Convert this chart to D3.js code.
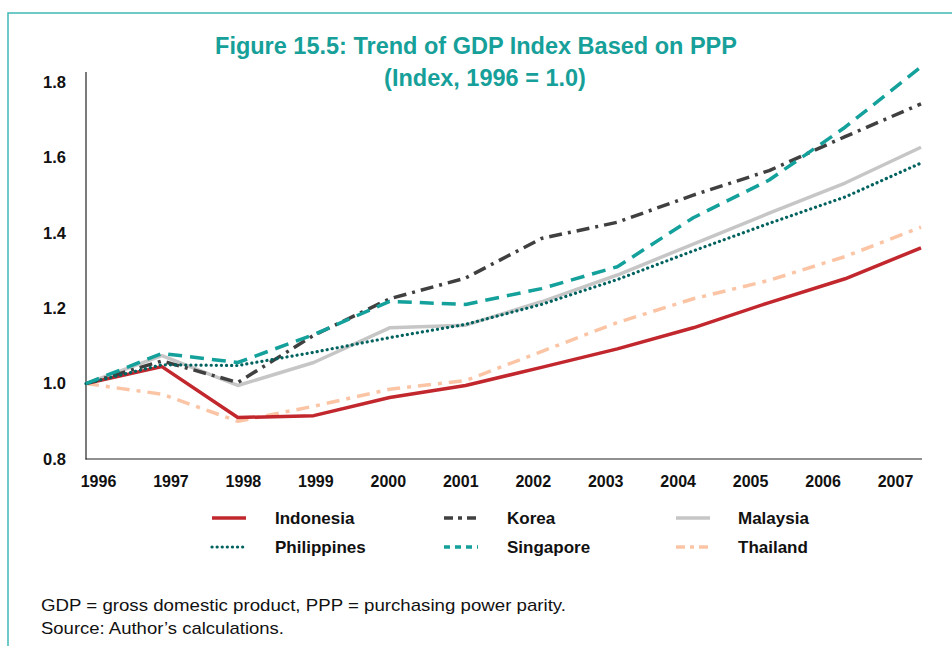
<!DOCTYPE html>
<html><head><meta charset="utf-8">
<script src="https://cdn.jsdelivr.net/npm/d3@7/dist/d3.min.js"></script>
<style>
body{margin:0;background:#fff;}
svg{display:block;font-family:"Liberation Sans",Arial,sans-serif;}
</style></head><body>
<svg id="chart" width="952" height="646"></svg>
<script>
const years = ["1996","1997","1998","1999","2000","2001","2002","2003","2004","2005","2006","2007"];
const yTicks = [0.8, 1.0, 1.2, 1.4, 1.6, 1.8];
const indonesia   = [1.0, 1.045, 0.91, 0.915, 0.963, 0.995, 1.043, 1.092, 1.148, 1.215, 1.278, 1.36];
const korea       = [1.0, 1.06, 1.003, 1.128, 1.225, 1.28, 1.385, 1.428, 1.50, 1.565, 1.655, 1.742];
const malaysia    = [1.0, 1.074, 0.995, 1.056, 1.148, 1.155, 1.217, 1.288, 1.37, 1.452, 1.532, 1.627];
const philippines = [1.0, 1.05, 1.048, 1.083, 1.122, 1.157, 1.21, 1.276, 1.352, 1.425, 1.495, 1.585];
const singapore   = [1.0, 1.08, 1.056, 1.13, 1.218, 1.21, 1.252, 1.31, 1.44, 1.54, 1.68, 1.84];
const thailand    = [1.0, 0.972, 0.90, 0.94, 0.985, 1.008, 1.085, 1.162, 1.225, 1.274, 1.337, 1.415];
const seriesNames = ["Indonesia","Korea","Malaysia","Philippines","Singapore","Thailand"];

const styles = {
  Indonesia:   {color:"#c1272d", dash:null, cap:"butt", w:3.5, leg:null},
  Korea:       {color:"#404040", dash:"13 6 3 6", cap:"butt", w:3.5, leg:"9 5 4 5"},
  Malaysia:    {color:"#c6c6c6", dash:null, cap:"butt", w:3.5, leg:null},
  Philippines: {color:"#00625f", dash:"0.1 5", cap:"round", w:3.2, leg:"0.1 5"},
  Singapore:   {color:"#14a09b", dash:"14 8", cap:"butt", w:3.5, leg:"6 5"},
  Thailand:    {color:"#fbc5a5", dash:"13 7 4 7", cap:"butt", w:3.5, leg:"9 5 4 5"}
};
const dataMap = {Indonesia:indonesia, Korea:korea, Malaysia:malaysia, Philippines:philippines, Singapore:singapore, Thailand:thailand};
const drawOrder = ["Malaysia","Thailand","Indonesia","Korea","Philippines","Singapore"];

const svg = d3.select("#chart");

// frame
svg.append("path").attr("d","M8,646 L8,13 L952,13")
  .attr("fill","none").attr("stroke","#3fb8b5").attr("stroke-width",1.5);

// title
svg.append("text").attr("x",476).attr("y",53.5).attr("text-anchor","middle")
  .attr("font-size",23.5).attr("font-weight","bold").attr("fill","#16a099")
  .text("Figure 15.5: Trend of GDP Index Based on PPP");
svg.append("text").attr("x",485).attr("y",86).attr("text-anchor","middle")
  .attr("font-size",23.5).attr("font-weight","bold").attr("fill","#16a099")
  .text("(Index, 1996 = 1.0)");

const x = d3.scalePoint().domain(years).range([86, 921]);
const xLab = d3.scalePoint().domain(years).range([98, 895]);
const y = d3.scaleLinear().domain([0.8, 1.8]).range([459, 82]);

// y axis
const yAxis = d3.axisLeft(y).tickValues(yTicks).tickFormat(d3.format(".1f")).tickSize(0).tickPadding(20);
const gy = svg.append("g").attr("transform","translate(86,0)").call(yAxis);
gy.select(".domain").remove();
gy.selectAll("text").attr("font-size",16.5).attr("font-weight","bold").attr("fill","#111")
  .attr("font-family","'Liberation Sans',Arial,sans-serif");
svg.append("line").attr("x1",86).attr("x2",86).attr("y1",72).attr("y2",459.5)
  .attr("stroke","#222").attr("stroke-width",1.2);

// x axis
const xAxis = d3.axisBottom(xLab).tickSize(0).tickPadding(17);
const gx = svg.append("g").attr("transform","translate(0,459)").call(xAxis);
gx.select(".domain").remove();
gx.selectAll("text").attr("font-size",16).attr("font-weight","bold").attr("fill","#111")
  .attr("font-family","'Liberation Sans',Arial,sans-serif");
svg.append("line").attr("x1",85.5).attr("x2",922).attr("y1",459).attr("y2",459)
  .attr("stroke","#222").attr("stroke-width",1.2);

// lines
const line = d3.line().x((d,i)=>x(years[i])).y(d=>y(d));
drawOrder.forEach(name=>{
  const s = styles[name];
  const p = svg.append("path").datum(dataMap[name])
    .attr("d", line).attr("fill","none")
    .attr("stroke", s.color).attr("stroke-width", s.w)
    .attr("stroke-linecap", s.cap).attr("stroke-linejoin","round");
  if (s.dash) p.attr("stroke-dasharray", s.dash);
});

// legend
const legCols = [212, 444, 676];
const legText = [275, 507, 738];
const legRows = [518, 547];
seriesNames.forEach((name,i)=>{
  const col = i % 3, row = Math.floor(i/3);
  const s = styles[name];
  const ly = legRows[row];
  const l = svg.append("line").attr("x1",legCols[col]).attr("x2",legCols[col]+34)
    .attr("y1",ly).attr("y2",ly).attr("stroke",s.color).attr("stroke-width",s.w)
    .attr("stroke-linecap", s.cap);
  if (s.leg) l.attr("stroke-dasharray", s.leg);
  svg.append("text").attr("x",legText[col]).attr("y",ly+6)
    .attr("font-size",17).attr("font-weight","bold").attr("fill","#111").text(name);
});

// notes
svg.append("text").attr("x",41).attr("y",611).attr("font-size",17).attr("fill","#111")
  .attr("textLength",525).attr("lengthAdjust","spacingAndGlyphs")
  .text("GDP = gross domestic product, PPP = purchasing power parity.");
svg.append("text").attr("x",41).attr("y",634).attr("font-size",17).attr("fill","#111")
  .attr("textLength",243).attr("lengthAdjust","spacingAndGlyphs")
  .text("Source: Author\u2019s calculations.");
</script>
</body></html>
